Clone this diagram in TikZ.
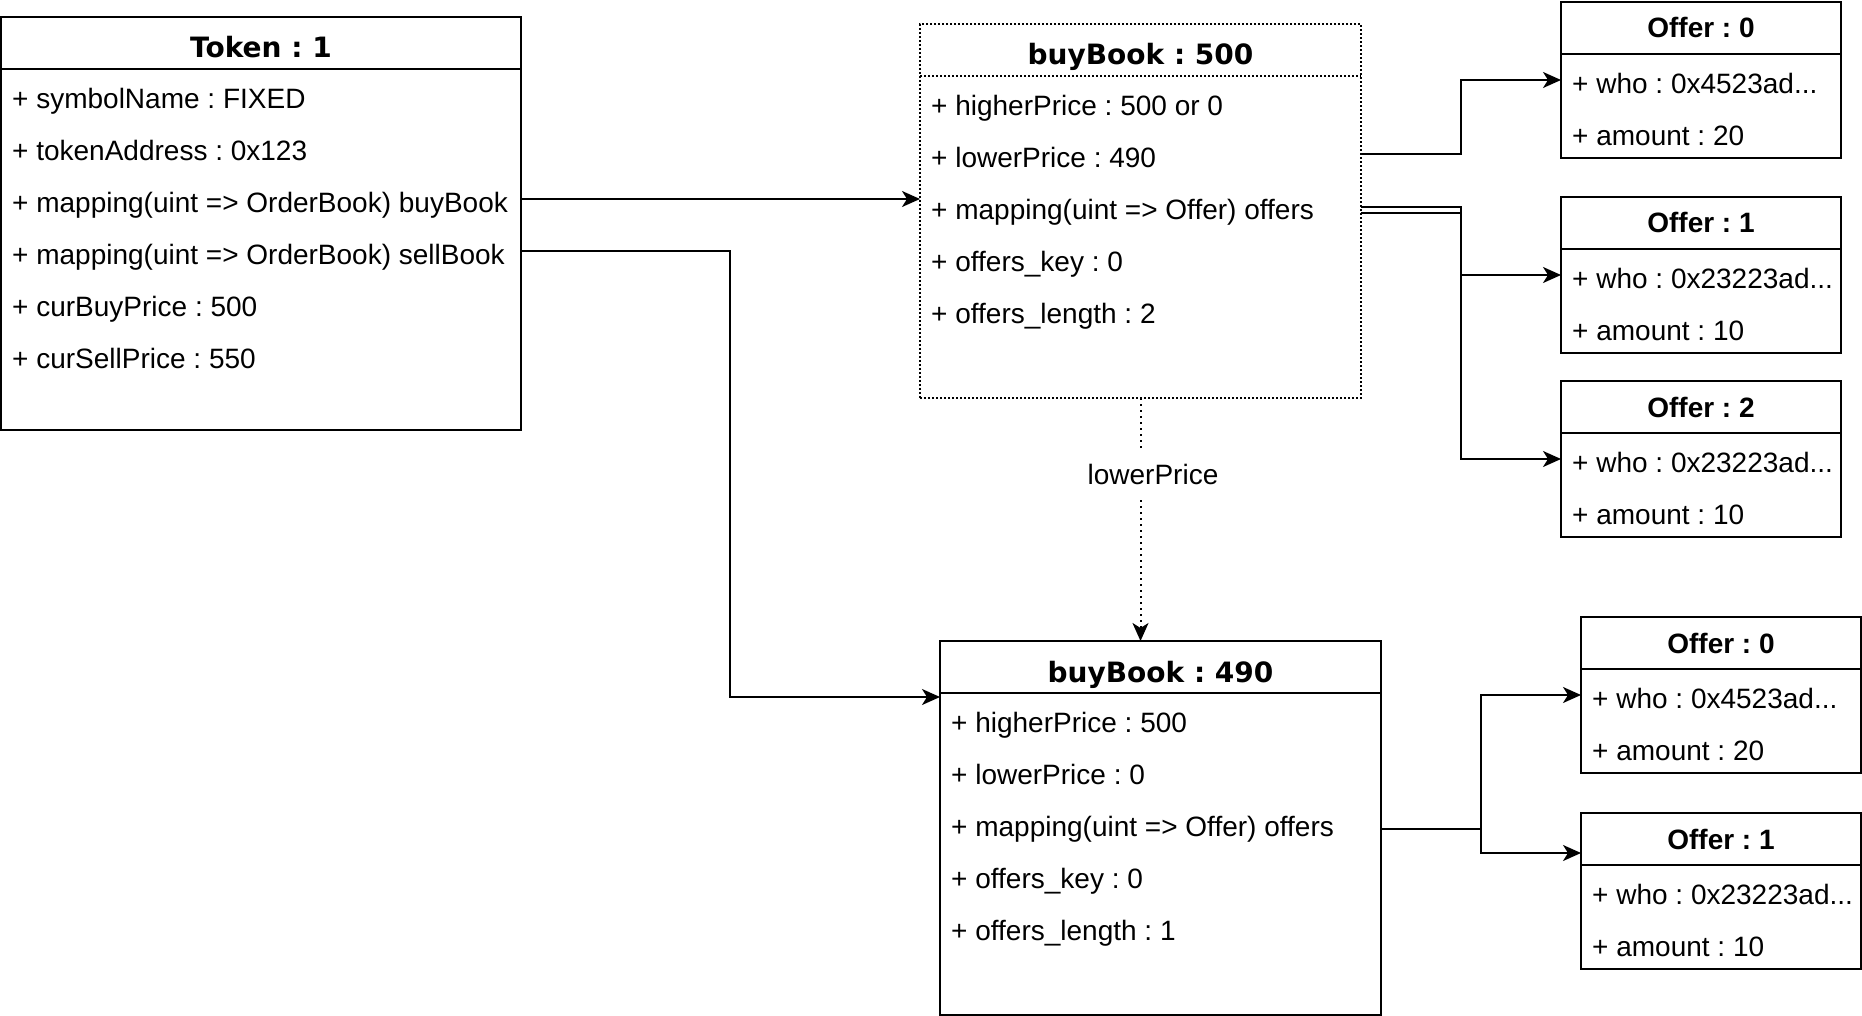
\documentclass[tikz,border=0pt]{standalone}
\usepackage{fontspec}
\setmainfont{Liberation Sans}
\newfontfamily\ttlfont{DejaVu Sans}
\usetikzlibrary{arrows.meta,calc}
\frenchspacing
\newcommand\threedots{.\kern0pt.\kern0pt.}
\newcommand\umlrows[2]{\foreach \t [count=\i] in {#2} {\node[rowtext] (#1-r\i) at ([xshift=11pt,yshift={-(52*\i+39.5)*1pt}]#1.north west) {\t};}}
\begin{document}
\frenchspacing
\begin{tikzpicture}[x=1pt,y=-1pt,
  box/.style={draw, line width=2pt, inner sep=0pt, outer sep=0pt, anchor=north west},
  dotbox/.style={box, dash pattern=on 2pt off 2pt},
  rowtext/.style={anchor=base west, inner sep=0pt, font=\fontsize{28}{34}\selectfont},
  ttl/.style={anchor=base, inner sep=0pt, font=\ttlfont\bfseries\fontsize{28}{34}\selectfont},
  offttl/.style={anchor=base, inner sep=0pt, font=\bfseries\fontsize{28}{34}\selectfont},
  conn/.style={line width=2pt, -{Stealth[length=18pt,width=16pt,inset=5pt]}},
  hline/.style={line width=2pt},
  lbl/.style={fill=white, inner xsep=2pt, inner ysep=12pt, font=\fontsize{28}{34}\selectfont}]
\useasboundingbox (0,0) rectangle (1862,1016);

% boxes
\node[box, minimum width=520pt, minimum height=413pt] (token) at (1,17) {};
\node[dotbox, minimum width=441pt, minimum height=374pt] (bb500) at (920,24) {};
\node[box, minimum width=441pt, minimum height=374pt] (bb490) at (940,641) {};
\node[box, minimum width=280pt, minimum height=156pt] (off0) at (1561,2) {};
\node[box, minimum width=280pt, minimum height=156pt] (off1) at (1561,197) {};
\node[box, minimum width=280pt, minimum height=156pt] (off2) at (1561,381) {};
\node[box, minimum width=280pt, minimum height=156pt] (offb0) at (1581,617) {};
\node[box, minimum width=280pt, minimum height=156pt] (offb1) at (1581,813) {};

% header separators
\foreach \b in {token,bb490,off0,off1,off2,offb0,offb1}
  \draw[hline] ([yshift=-52pt]\b.north west) -- ([yshift=-52pt]\b.north east);
\draw[hline, dash pattern=on 2pt off 2pt] ([yshift=-52pt]bb500.north west) -- ([yshift=-52pt]bb500.north east);

% titles
\node[ttl] (token-t) at ([yshift=-41pt]token.north) {Token : 1};
\node[ttl] (bb500-t) at ([yshift=-41pt]bb500.north) {buyBook : 500};
\node[ttl] (bb490-t) at ([yshift=-41pt]bb490.north) {buyBook : 490};
\node[offttl] (off0-t) at ([yshift=-36pt]off0.north) {Offer : 0};
\node[offttl] (off1-t) at ([yshift=-36pt]off1.north) {Offer : 1};
\node[offttl] (off2-t) at ([yshift=-36pt]off2.north) {Offer : 2};
\node[offttl] (offb0-t) at ([yshift=-36pt]offb0.north) {Offer : 0};
\node[offttl] (offb1-t) at ([yshift=-36pt]offb1.north) {Offer : 1};

% rows
\umlrows{token}{{+ symbolName : FIXED},{+ tokenAddress : 0x123},{+ mapping(uint => OrderBook) buyBook},{+ mapping(uint => OrderBook) sellBook},{+ curBuyPrice : 500},{+ curSellPrice : 550}}
\umlrows{bb500}{{+ higherPrice : 500 or 0},{+ lowerPrice : 490},{+ mapping(uint => Offer) offers},{+ offers\_key : 0},{+ offers\_length : 2}}
\umlrows{bb490}{{+ higherPrice : 500},{+ lowerPrice : 0},{+ mapping(uint => Offer) offers},{+ offers\_key : 0},{+ offers\_length : 1}}
\umlrows{off0}{{+ who : 0x4523ad\threedots},{+ amount : 20}}
\umlrows{off1}{{+ who : 0x23223ad\threedots},{+ amount : 10}}
\umlrows{off2}{{+ who : 0x23223ad\threedots},{+ amount : 10}}
\umlrows{offb0}{{+ who : 0x4523ad\threedots},{+ amount : 20}}
\umlrows{offb1}{{+ who : 0x23223ad\threedots},{+ amount : 10}}

% connector coordinates
\coordinate (sx) at (730,0);
\coordinate (jx) at (1461,0);
\coordinate (jx2) at (1481,0);
\coordinate (t3) at ([yshift=-182pt]token.north east);
\coordinate (t4) at ([yshift=-234pt]token.north east);
\coordinate (in490) at ([yshift=-56pt]bb490.north west);
\coordinate (b2) at ([yshift=-130pt]bb500.north east);
\coordinate (b3a) at ([yshift=-183pt]bb500.north east);
\coordinate (b3b) at ([yshift=-189pt]bb500.north east);
\coordinate (o0in) at ([yshift=-78pt]off0.north west);
\coordinate (o1in) at ([yshift=-78pt]off1.north west);
\coordinate (o2in) at ([yshift=-78pt]off2.north west);
\coordinate (c3) at ([yshift=-188pt]bb490.north east);
\coordinate (ob0in) at ([yshift=-78pt]offb0.north west);
\coordinate (ob1in) at ([yshift=-40pt]offb1.north west);

% connectors
\draw[conn] (t3) -- (t3 -| bb500.west);
\draw[conn] (t4) -- (t4 -| sx) |- (in490);
\draw[conn] (b2) -- (b2 -| jx) |- (o0in);
\draw[conn] (b3a) -- (b3a -| jx) |- (o1in);
\draw[conn] (b3b) -- (b3b -| jx) |- (o2in);
\draw[conn] (c3) -- (c3 -| jx2) |- (ob0in);
\draw[conn] (c3 -| jx2) |- (ob1in);
\draw[conn, dash pattern=on 2pt off 4pt] (bb500.south) -- (bb500.south |- bb490.north);
\node[lbl] (lp) at (1153,474) {lowerPrice};
\end{tikzpicture}
\end{document}
